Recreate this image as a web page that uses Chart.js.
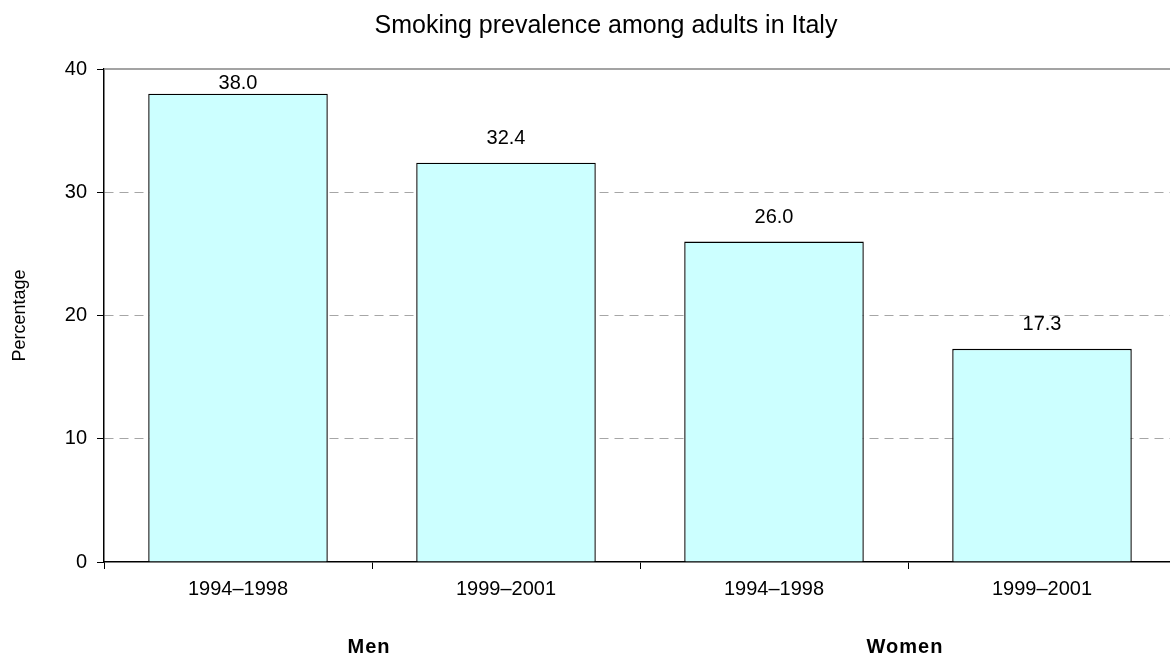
<!DOCTYPE html>
<html>
<head>
<meta charset="utf-8">
<script src="https://cdn.jsdelivr.net/npm/chart.js@4/dist/chart.umd.min.js"></script>
<style>
  html, body { margin: 0; padding: 0; background: #fff; overflow: hidden; }
  #wrap { width: 1180px; height: 658px; }
</style>
</head>
<body>
<div id="wrap"><canvas id="myChart" width="1180" height="658"></canvas></div>
<script>
const titleText = "Smoking prevalence among adults in Italy";
const periods = ["1994–1998", "1999–2001", "1994–1998", "1999–2001"];
const groups = ["Men", "Women"];
const prevalence = [38.0, 32.4, 26.0, 17.3];
const yTicks = [0, 10, 20, 30, 40];

const FONT = "'Liberation Sans', Arial, sans-serif";

// title, top frame line, value labels and Men / Women under the axis
const extras = {
  id: "extras",
  afterDraw(chart) {
    const c = chart.ctx;
    const area = chart.chartArea;
    c.save();

    c.strokeStyle = "#858585";
    c.lineWidth = 1.5;
    c.beginPath();
    c.moveTo(area.left, area.top);
    c.lineTo(area.right, area.top);
    c.stroke();

    c.fillStyle = "#000";
    c.textAlign = "center";
    c.textBaseline = "alphabetic";
    c.font = "25px " + FONT;
    c.fillText(titleText, 606, 33);

    c.font = "20px " + FONT;
    c.textBaseline = "middle";
    chart.getDatasetMeta(0).data.forEach((bar, i) => {
      const y = Math.max(bar.y - 24, area.top + 14);
      c.fillText(prevalence[i].toFixed(1), bar.x, y);
    });

    const xs = chart.scales.x;
    c.font = "bold 20px " + FONT;
    c.letterSpacing = "1px";
    groups.forEach((g, i) => {
      const left = xs.getPixelForValue(i * 2);
      const right = xs.getPixelForValue(i * 2 + 1);
      c.fillText(g, (left + right) / 2 - 3, 647);
    });
    c.restore();
  }
};

const ctx = document.getElementById("myChart").getContext("2d");

new Chart(ctx, {
  type: "bar",
  data: {
    labels: periods,
    datasets: [
      {
        data: prevalence,
        backgroundColor: "#CCFFFF",
        borderColor: "#000",
        borderWidth: 1.4,
        barPercentage: 0.67,
        categoryPercentage: 1,
      },
    ],
  },
  options: {
    responsive: false,
    animation: false,
    layout: { padding: { top: 69, right: 4, left: 0, bottom: 0 } },
    plugins: {
      legend: { display: false },
      tooltip: { enabled: false },
      title: { display: false },
    },
    scales: {
      x: {
        afterFit: (scale) => { scale.height = 96; },
        grid: {
          offset: true,
          drawOnChartArea: false,
          drawTicks: true,
          tickLength: 7,
          tickColor: "#000",
        },
        border: { color: "#000", width: 1.5 },
        ticks: {
          color: "#000",
          padding: 8,
          font: { family: FONT, size: 20 },
        },
      },
      y: {
        min: 0,
        max: 40,
        afterFit: (scale) => { scale.width = 104; },
        afterBuildTicks: (scale) => { scale.ticks = yTicks.map((v) => ({ value: v })); },
        grid: {
          color: (c) => (c.tick && (c.tick.value === 0 || c.tick.value === 40) ? "rgba(0,0,0,0)" : "#a6a6a6"),
          tickColor: "#000",
          tickLength: 7,
          lineWidth: 1,
        },
        border: { color: "#000", width: 1.5, dash: [9, 6] },
        ticks: {
          color: "#000",
          padding: 10,
          font: { family: FONT, size: 20 },
        },
        title: {
          display: true,
          text: "Percentage",
          color: "#000",
          padding: { top: 9, bottom: 0 },
          font: { family: FONT, size: 18 },
        },
      },
    },
  },
  plugins: [extras],
});
</script>
</body>
</html>
